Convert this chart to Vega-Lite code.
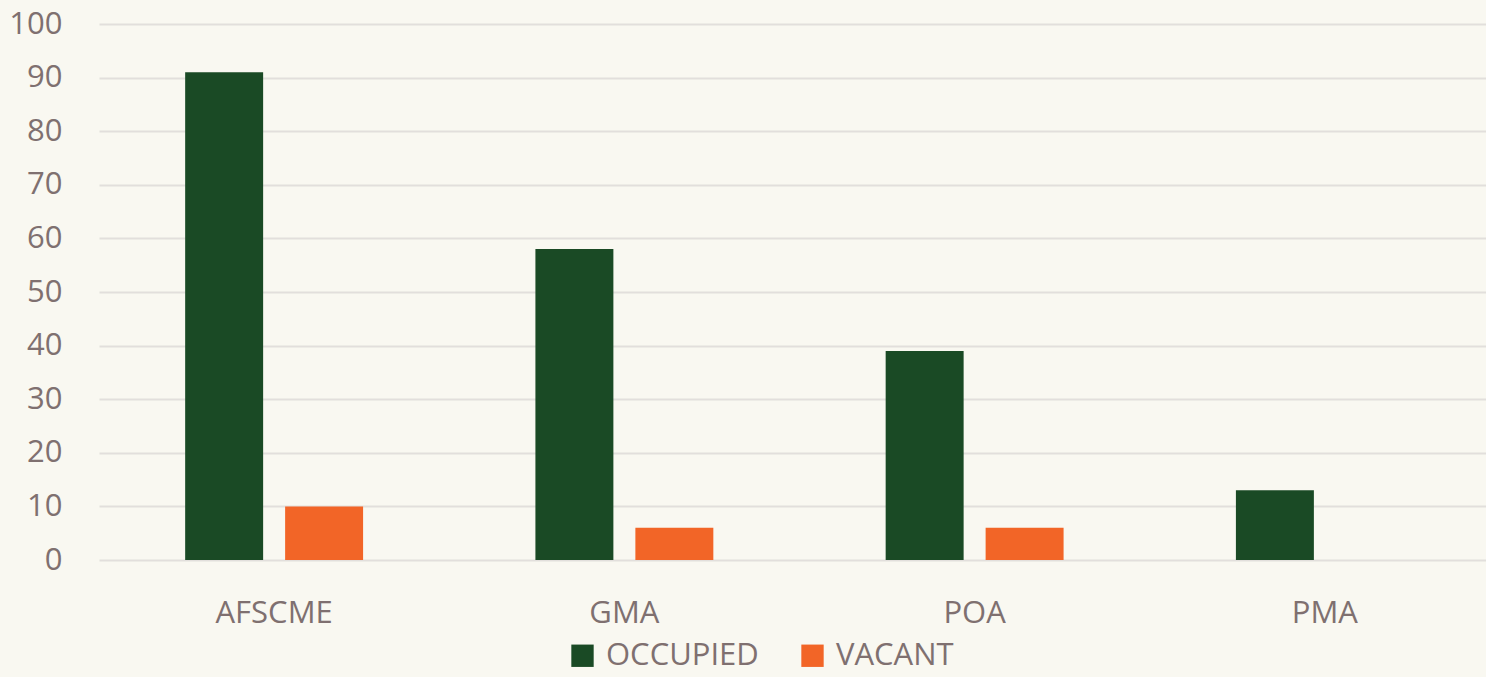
{
  "$schema": "https://vega.github.io/schema/vega-lite/v6.json",
  "width": 1401,
  "height": 536,
  "autosize": {"type": "none"},
  "padding": {"left": 99, "top": 24, "right": 0, "bottom": 117},
  "background": "#f9f8f1",
  "config": {
    "view": {"stroke": null},
    "font": "Open Sans",
    "axis": {"labelFont": "Open Sans", "labelColor": "#7f7070", "labelFontSize": 31, "domain": false, "ticks": false, "title": null},
    "legend": {"labelFont": "Open Sans", "labelColor": "#7f7070", "labelFontSize": 31}
  },
  "data": {
    "values": [
      {"union": "AFSCME", "status": "OCCUPIED", "count": 91},
      {"union": "AFSCME", "status": "VACANT", "count": 10},
      {"union": "GMA", "status": "OCCUPIED", "count": 58},
      {"union": "GMA", "status": "VACANT", "count": 6},
      {"union": "POA", "status": "OCCUPIED", "count": 39},
      {"union": "POA", "status": "VACANT", "count": 6},
      {"union": "PMA", "status": "OCCUPIED", "count": 13},
      {"union": "PMA", "status": "VACANT", "count": 0}
    ]
  },
  "mark": {"type": "bar"},
  "encoding": {
    "x": {
      "field": "union", "type": "nominal", "sort": ["AFSCME", "GMA", "POA", "PMA"],
      "scale": {"paddingInner": 0.492, "paddingOuter": 0.246},
      "axis": {"labelAngle": 0, "labelPadding": 38, "grid": false}
    },
    "xOffset": {
      "field": "status", "type": "nominal",
      "scale": {"paddingInner": 0.22, "paddingOuter": 0}
    },
    "y": {
      "field": "count", "type": "quantitative",
      "scale": {"domain": [0, 100]},
      "axis": {"values": [0,10,20,30,40,50,60,70,80,90,100], "labelPadding": 37, "gridColor": "#e2dfdc", "gridWidth": 2}
    },
    "color": {
      "field": "status", "type": "nominal",
      "scale": {"domain": ["OCCUPIED", "VACANT"], "range": ["#1a4a25", "#f26527"]},
      "legend": {
        "title": null, "orient": "none", "direction": "horizontal",
        "legendX": 468, "legendY": 616,
        "symbolType": "square", "symbolSize": 500, "symbolStrokeWidth": 0,
        "symbolOpacity": 1, "columnPadding": 38, "labelOffset": 8
      }
    }
  }
}
